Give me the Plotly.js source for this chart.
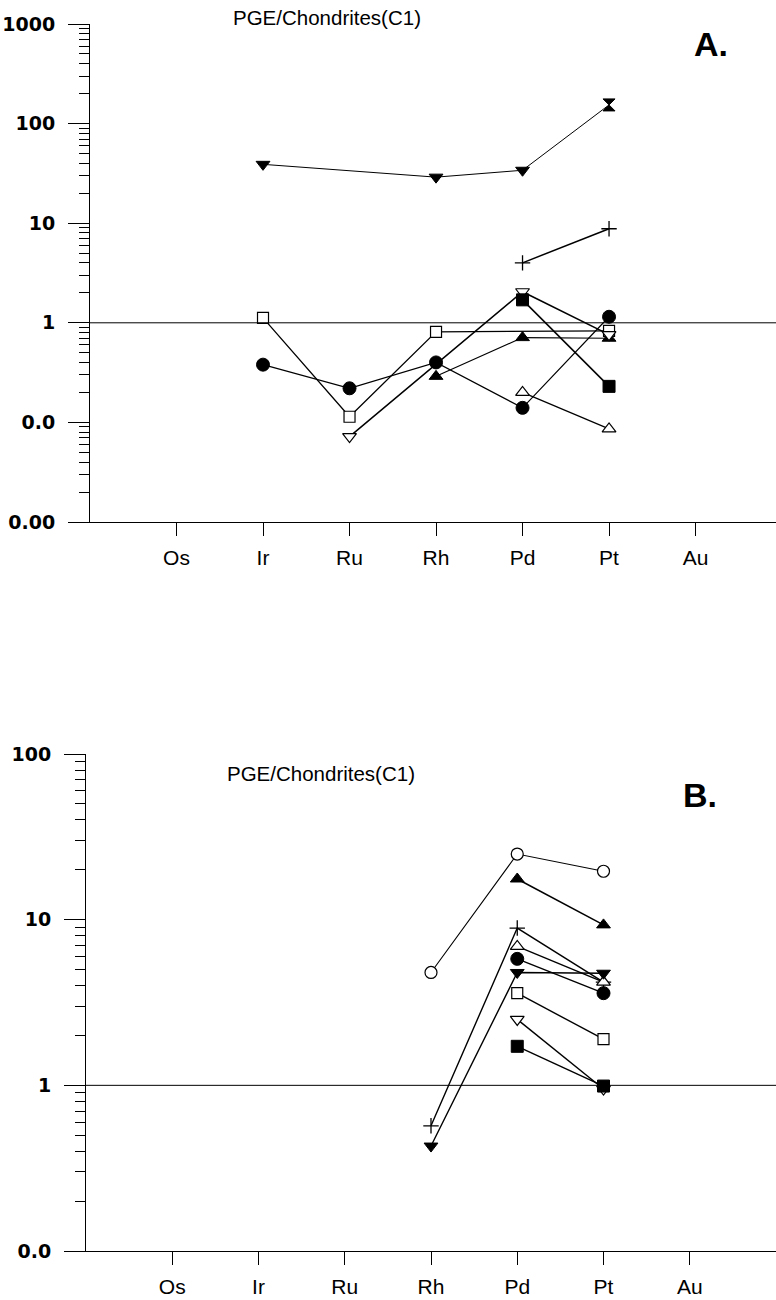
<!DOCTYPE html>
<html>
<head>
<meta charset="utf-8">
<script src="https://cdn.plot.ly/plotly-3.0.1.min.js"></script>
<style>html,body{margin:0;padding:0;background:#fff;}#chart{width:776px;height:1300px;}</style>
</head>
<body>
<div id="chart"></div>
<script>
// ---------- data ----------
const elements = ['Os', 'Ir', 'Ru', 'Rh', 'Pd', 'Pt', 'Au'];
const yTickValsA = [1000, 100, 10, 1, 0.1, 0.01];
const yTickTextA = ['1000', '100', '10', '1', '0.0', '0.00'];
const yTickValsB = [100, 10, 1, 0.1];
const yTickTextB = ['100', '10', '1', '0.0'];
const refLevel = 1;
const panelTitle = 'PGE/Chondrites(C1)';

// Panel A
const aTriDownFilledX = ['Ir', 'Rh', 'Pd', 'Pt'];
const aTriDownFilledY = [39, 29, 34, 154];
const aPlusX = ['Pd', 'Pt'];
const aPlusY = [4.0, 8.8];
const aSquareOpenX = ['Ir', 'Ru', 'Rh', 'Pt'];
const aSquareOpenY = [1.12, 0.114, 0.81, 0.83];
const aCircleFilledX = ['Ir', 'Ru', 'Rh', 'Pd', 'Pt'];
const aCircleFilledY = [0.38, 0.22, 0.40, 0.14, 1.15];
const aTriDownOpenX = ['Ru', 'Pd', 'Pt'];
const aTriDownOpenY = [0.072, 2.05, 0.76];
const aTriUpFilledX = ['Rh', 'Pd', 'Pt'];
const aTriUpFilledY = [0.29, 0.71, 0.70];
const aSquareFilledX = ['Pd', 'Pt'];
const aSquareFilledY = [1.70, 0.23];
const aTriUpOpenX = ['Pd', 'Pt'];
const aTriUpOpenY = [0.20, 0.086];

// Panel B
const bCircleOpenX = ['Rh', 'Pd', 'Pt'];
const bCircleOpenY = [4.8, 24.9, 19.6];
const bTriUpFilledX = ['Pd', 'Pt'];
const bTriUpFilledY = [17.6, 9.3];
const bPlusX = ['Rh', 'Pd', 'Pt'];
const bPlusY = [0.57, 8.9, 4.2];
const bTriUpOpenX = ['Pd', 'Pt'];
const bTriUpOpenY = [6.9, 4.2];
const bCircleFilledX = ['Pd', 'Pt'];
const bCircleFilledY = [5.8, 3.6];
const bTriDownFilledX = ['Rh', 'Pd', 'Pt'];
const bTriDownFilledY = [0.43, 4.8, 4.75];
const bSquareOpenX = ['Pd', 'Pt'];
const bSquareOpenY = [3.6, 1.9];
const bTriDownOpenX = ['Pd', 'Pt'];
const bTriDownOpenY = [2.5, 0.95];
const bSquareFilledX = ['Pd', 'Pt'];
const bSquareFilledY = [1.72, 0.99];

// ---------- styles ----------
const W = 776, H = 1300;
const FONT = 'Liberation Sans, Arial, Helvetica, sans-serif';
const styles = {
  triDownFilled: {symbol: 'triangle-down', color: '#000', size: 12, line: {color: '#000', width: 1}},
  triUpFilled:   {symbol: 'triangle-up', color: '#000', size: 12, line: {color: '#000', width: 1}},
  triDownOpen:   {symbol: 'triangle-down', color: '#fff', size: 12, line: {color: '#000', width: 1.2}},
  triUpOpen:     {symbol: 'triangle-up', color: '#fff', size: 12, line: {color: '#000', width: 1.2}},
  squareOpen:    {symbol: 'square', color: '#fff', size: 11, line: {color: '#000', width: 1.2}},
  squareFilled:  {symbol: 'square', color: '#000', size: 12, line: {color: '#000', width: 1}},
  circleFilled:  {symbol: 'circle', color: '#000', size: 13, line: {color: '#000', width: 1}},
  circleOpen:    {symbol: 'circle', color: '#fff', size: 12, line: {color: '#000', width: 1.2}},
  plus:          {symbol: 'cross-thin-open', color: '#000', size: 11, line: {color: '#000', width: 1.3}}
};

function tr(x, y, st, lw, axis, symOverride) {
  const m = Object.assign({}, styles[st]);
  if (symOverride) m.symbol = symOverride;
  return {
    type: 'scatter', mode: 'lines+markers', x: x, y: y,
    xaxis: axis === 'B' ? 'x2' : 'x', yaxis: axis === 'B' ? 'y2' : 'y',
    line: {color: '#000', width: lw}, marker: m, hoverinfo: 'x+y', cliponaxis: false
  };
}

const data = [
  tr(aTriDownFilledX, aTriDownFilledY, 'triDownFilled', 1.0, 'A',
     aTriDownFilledX.map(e => e === 'Pt' ? 'hourglass' : 'triangle-down')),
  tr(aPlusX, aPlusY, 'plus', 1.5, 'A'),
  tr(aSquareOpenX, aSquareOpenY, 'squareOpen', 1.3, 'A'),
  tr(aCircleFilledX, aCircleFilledY, 'circleFilled', 1.2, 'A'),
  tr(aTriUpFilledX, aTriUpFilledY, 'triUpFilled', 1.1, 'A'),
  tr(aTriDownOpenX, aTriDownOpenY, 'triDownOpen', 1.5, 'A'),
  tr(aSquareFilledX, aSquareFilledY, 'squareFilled', 1.5, 'A'),
  tr(aTriUpOpenX, aTriUpOpenY, 'triUpOpen', 1.2, 'A'),

  tr(bCircleOpenX, bCircleOpenY, 'circleOpen', 1.1, 'B'),
  tr(bTriUpFilledX, bTriUpFilledY, 'triUpFilled', 1.5, 'B'),
  tr(bPlusX, bPlusY, 'plus', 1.4, 'B'),
  tr(bTriUpOpenX, bTriUpOpenY, 'triUpOpen', 1.4, 'B'),
  tr(bCircleFilledX, bCircleFilledY, 'circleFilled', 1.4, 'B'),
  tr(bTriDownFilledX, bTriDownFilledY, 'triDownFilled', 1.4, 'B'),
  tr(bSquareOpenX, bSquareOpenY, 'squareOpen', 1.4, 'B'),
  tr(bTriDownOpenX, bTriDownOpenY, 'triDownOpen', 1.4, 'B'),
  tr(bSquareFilledX, bSquareFilledY, 'squareFilled', 1.4, 'B')
];

function minorVals(lo, hi) {
  const v = [];
  for (let e = lo; e < hi; e++) for (let k = 2; k <= 9; k++) v.push(k * Math.pow(10, e));
  return v;
}

// pixel geometry
const aLeft = 90, aTop = 24, aBottom = 522;
const bLeft = 86, bTop = 754, bBottom = 1251;

const xCommon = {
  type: 'category', categoryorder: 'array', categoryarray: elements,
  showline: true, linecolor: '#000', linewidth: 1, showgrid: false, zeroline: false,
  ticks: 'outside', ticklen: 13, tickcolor: '#000', tickwidth: 1,
  tickfont: {family: FONT, size: 21, color: '#000'}, ticklabelstandoff: 4, fixedrange: true
};
const yCommon = {
  type: 'log', showline: true, linecolor: '#000', linewidth: 1, showgrid: false, zeroline: false,
  ticks: 'outside', ticklen: 21, tickcolor: '#000', tickwidth: 1, tickmode: 'array',
  tickfont: {family: 'DejaVu Sans, sans-serif', size: 19, color: '#000', weight: 'bold'},
  ticklabelstandoff: 9, fixedrange: true
};

const layout = {
  width: W, height: H, margin: {l: 0, r: 0, t: 0, b: 0},
  paper_bgcolor: '#fff', plot_bgcolor: '#fff', showlegend: false,
  xaxis: Object.assign({}, xCommon, {domain: [aLeft / W, 1], range: [-1, 6.93], anchor: 'y'}),
  yaxis: Object.assign({}, yCommon, {
    domain: [1 - aBottom / H, 1 - aTop / H], range: [-2, 3], anchor: 'x',
    tickvals: yTickValsA, ticktext: yTickTextA,
    minor: {tickmode: 'array', tickvals: minorVals(-2, 3), ticks: 'outside', ticklen: 10, tickcolor: '#000', tickwidth: 1, showgrid: false}
  }),
  xaxis2: Object.assign({}, xCommon, {domain: [bLeft / W, 1], range: [-1, 7.0], anchor: 'y2'}),
  yaxis2: Object.assign({}, yCommon, {
    domain: [1 - bBottom / H, 1 - bTop / H], range: [-1, 2], anchor: 'x2',
    tickvals: yTickValsB, ticktext: yTickTextB,
    minor: {tickmode: 'array', tickvals: minorVals(-1, 2), ticks: 'outside', ticklen: 10, tickcolor: '#000', tickwidth: 1, showgrid: false}
  }),
  shapes: [
    {type: 'line', xref: 'paper', yref: 'y', x0: aLeft / W, x1: 1, y0: refLevel, y1: refLevel, line: {color: '#000', width: 1}},
    {type: 'line', xref: 'paper', yref: 'y2', x0: bLeft / W, x1: 1, y0: refLevel, y1: refLevel, line: {color: '#000', width: 1}}
  ],
  annotations: [
    {text: panelTitle, xref: 'paper', yref: 'paper', x: 231 / W, y: 1 - 18 / H, xanchor: 'left', yanchor: 'middle', showarrow: false, font: {family: FONT, size: 20.5, color: '#000'}},
    {text: panelTitle, xref: 'paper', yref: 'paper', x: 225 / W, y: 1 - 773 / H, xanchor: 'left', yanchor: 'middle', showarrow: false, font: {family: FONT, size: 20.5, color: '#000'}},
    {text: '<b>A.</b>', xref: 'paper', yref: 'paper', x: 692 / W, y: 1 - 44 / H, xanchor: 'left', yanchor: 'middle', showarrow: false, font: {family: FONT, size: 34, color: '#000'}},
    {text: '<b>B.</b>', xref: 'paper', yref: 'paper', x: 681 / W, y: 1 - 795 / H, xanchor: 'left', yanchor: 'middle', showarrow: false, font: {family: FONT, size: 34, color: '#000'}}
  ]
};

Plotly.newPlot('chart', data, layout, {staticPlot: true, displayModeBar: false});
</script>
</body>
</html>
